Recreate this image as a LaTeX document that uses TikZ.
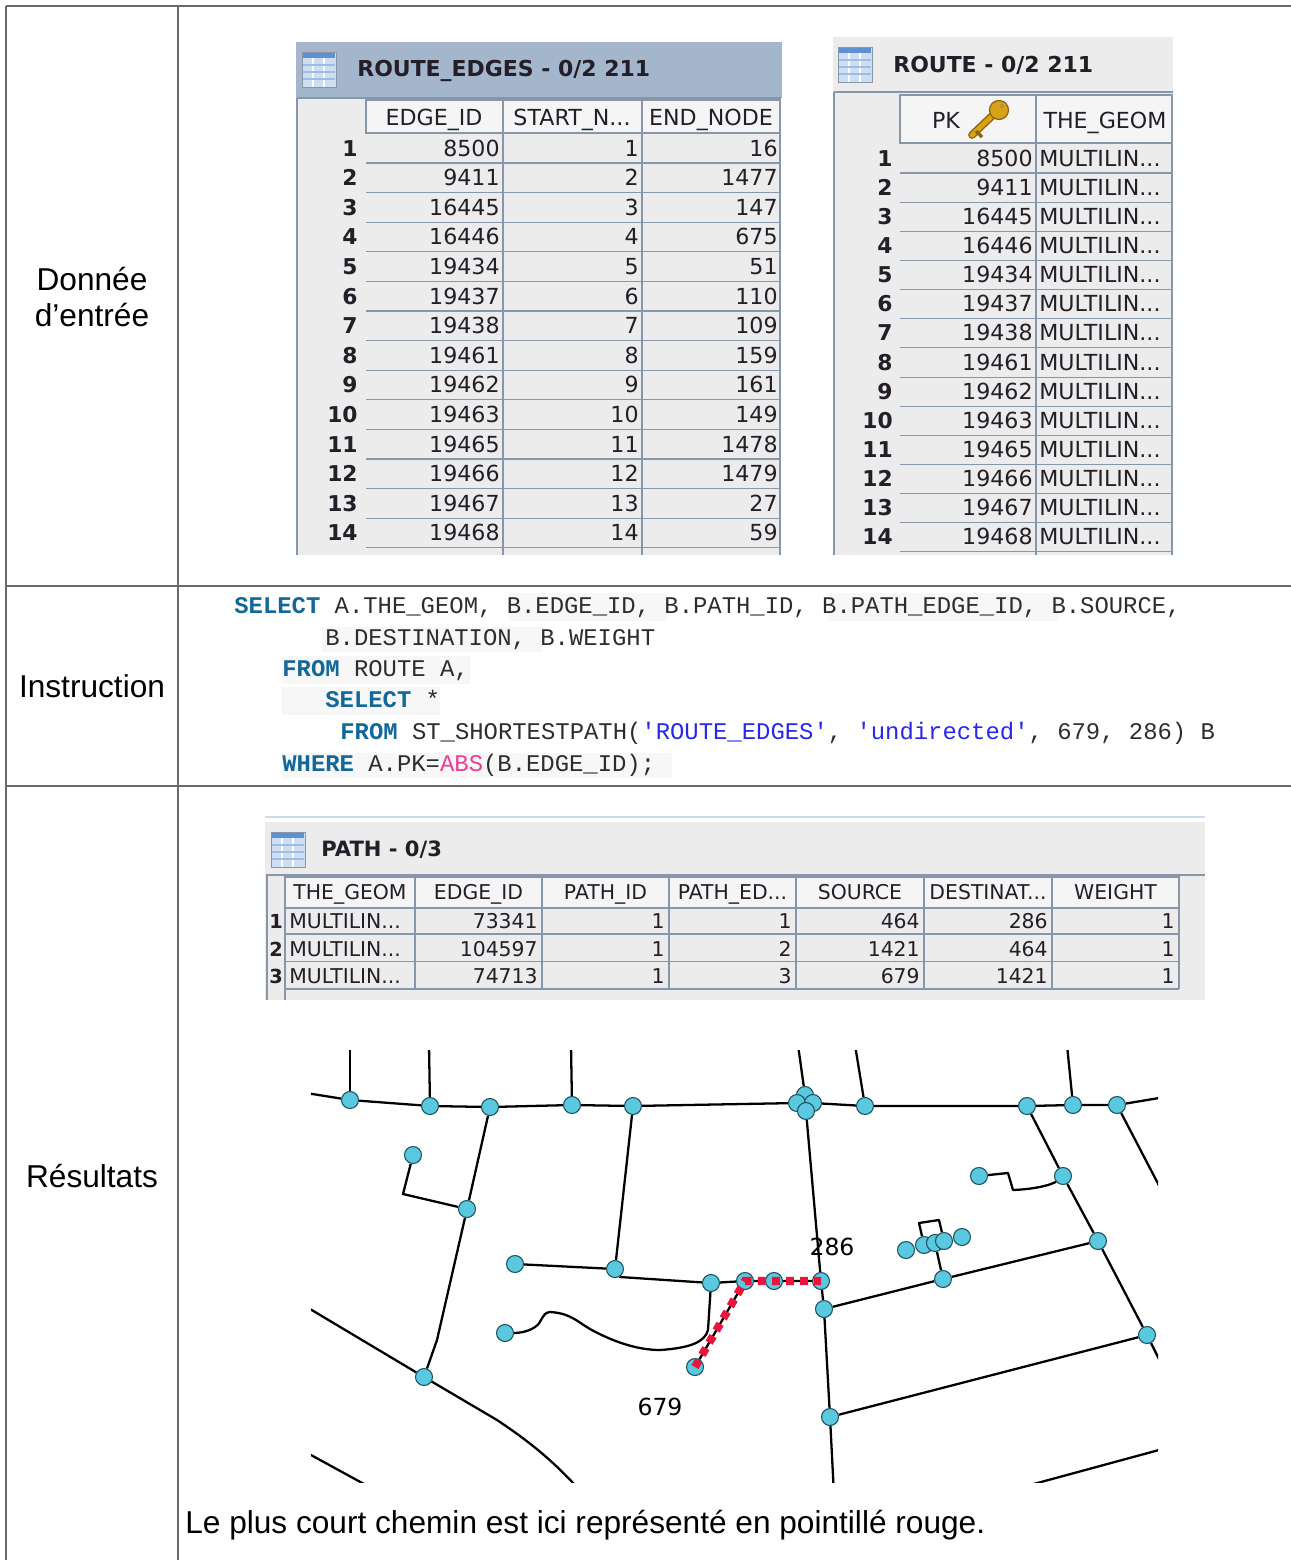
\documentclass[tikz,border=0pt]{standalone}
\usepackage{fontspec}
\setmainfont{Liberation Sans}
\setmonofont{Liberation Mono}
\newfontfamily\tabfont{DejaVu Sans}
\usetikzlibrary{backgrounds}

\definecolor{framegray}{RGB}{105,105,105}
\definecolor{headblue}{RGB}{164,182,204}
\definecolor{panel}{RGB}{236,236,236}
\definecolor{cellhead}{RGB}{245,245,245}
\definecolor{rulegray}{RGB}{135,150,168}
\definecolor{inkdark}{RGB}{35,30,40}
\definecolor{codegray}{RGB}{45,45,45}
\definecolor{sqlblue}{RGB}{18,104,152}
\definecolor{sqlstring}{RGB}{40,40,235}
\definecolor{sqlpink}{RGB}{236,60,150}
\definecolor{codeback}{RGB}{247,247,247}
\definecolor{iconblue}{RGB}{95,145,210}
\definecolor{iconfill}{RGB}{205,222,242}
\definecolor{keygold}{RGB}{214,162,24}
\definecolor{keyedge}{RGB}{140,100,10}
\definecolor{vertexfill}{RGB}{90,200,222}
\definecolor{vertexedge}{RGB}{30,80,95}
\definecolor{pathred}{RGB}{236,20,60}
\definecolor{topline}{RGB}{200,220,242}

\newcommand{\sqlkw}[1]{\textcolor{sqlblue}{\bfseries #1}}
\newcommand{\sqlstr}[1]{\textcolor{sqlstring}{#1}}
\newcommand{\sqlfn}[1]{\textcolor{sqlpink}{#1}}
\newcommand{\cut}{.\kern0pt.\kern0pt.}

% small table icon, top left corner at (#1,#2)
\newcommand{\gridicon}[2]{%
  \begin{scope}[shift={(#1,#2)}]
    \draw[rulegray, fill=iconfill, line width=0.5pt] (0,0) rectangle (34,35);
    \fill[iconblue] (0.6,0.6) rectangle (33.4,6);
    \foreach \gx in {11,22} \draw[white, line width=0.7pt] (\gx,6) -- (\gx,34.5);
    \foreach \gy in {13,20,27} \draw[iconblue!60, line width=0.6pt] (0.6,\gy) -- (33.4,\gy);
  \end{scope}}

\tikzset{
  frame/.style={draw=framegray, line width=1.1pt},
  rowrule/.style={draw=rulegray, line width=0.6pt},
  headcell/.style={fill=cellhead, draw=rulegray, line width=0.6pt},
  tabtxt/.style={font=\tabfont\fontsize{12.6pt}{15pt}\selectfont, text=inkdark, inner sep=0},
  pathtxt/.style={font=\tabfont\fontsize{11.6pt}{14pt}\selectfont, text=inkdark, inner sep=0},
  rownum/.style={font=\tabfont\bfseries\fontsize{12.4pt}{14pt}\selectfont, text=inkdark, inner sep=0, anchor=base east},
  tabtitle/.style={font=\tabfont\bfseries\fontsize{12.5pt}{15pt}\selectfont, text=inkdark, inner sep=0, anchor=west},
  codeline/.style={font=\ttfamily\fontsize{13.6pt}{16pt}\selectfont, text=codegray, inner sep=0, anchor=base west},
  celltitle/.style={font=\fontsize{18pt}{21pt}\selectfont, align=center, inner sep=0},
  vertex/.style={circle, draw=vertexedge, fill=vertexfill, line width=0.6pt, minimum size=0.34cm, inner sep=0},
  road/.style={line width=1.3pt, line join=round},
  shortpath/.style={draw=pathred, line width=4.6pt, dash pattern=on 4.4pt off 3.6pt},
  maplabel/.style={font=\tabfont\fontsize{13.4pt}{15pt}\selectfont, inner sep=0}
}

\begin{document}
\begin{tikzpicture}[x=0.02cm, y=-0.02cm]
\useasboundingbox (0,0) rectangle (1291,1560);

% outer table
\draw[frame] (6,6) -- (1295,6);
\draw[frame] (6,6) -- (6,1565);
\draw[frame] (178,6) -- (178,1565);
\draw[frame] (6,586) -- (1295,586);
\draw[frame] (6,786) -- (1295,786);

\node[celltitle] (input) at (92,297) {Donnée\\d'entrée};
\node[celltitle] (instr) at (92,686) {Instruction};
\node[celltitle] (result) at (92,1176) {Résultats};

% ROUTE_EDGES
\fill[headblue] (296,42) rectangle (782,98);
\fill[panel] (297,98) rectangle (781,555);
\draw[rowrule] (297,98) -- (781,98);
\draw[rowrule] (297,98) -- (297,555);
\gridicon{302}{52}
\node[tabtitle] (edgestitle) at (357,71) {ROUTE\_EDGES - 0/2 211};
\draw[headcell] (366,100) rectangle (503,133);
\draw[headcell] (503,100) rectangle (642,133);
\draw[headcell] (642,100) rectangle (780,133);
\draw[rowrule] (503,133) -- (503,555);
\draw[rowrule] (642,133) -- (642,555);
\draw[rowrule] (780,133) -- (780,555);
\node[tabtxt, anchor=base] (hedge) at (434,125) {EDGE\_ID};
\node[tabtxt, anchor=base] (hstart) at (572,125) {START\_N\cut};
\node[tabtxt, anchor=base] (hend) at (711,125) {END\_NODE};
\foreach \eid/\endn [count=\i] in {8500/16, 9411/1477, 16445/147, 16446/675, 19434/51, 19437/110, 19438/109, 19461/159, 19462/161, 19463/149, 19465/1478, 19466/1479, 19467/27, 19468/59}{
  \node[rownum] (er\i) at (358,{156+29.6*(\i-1)}) {\i};
  \node[tabtxt, anchor=base east] (ee\i) at (500,{156+29.6*(\i-1)}) {\eid};
  \node[tabtxt, anchor=base east] (es\i) at (639,{156+29.6*(\i-1)}) {\i};
  \node[tabtxt, anchor=base east] (en\i) at (778,{156+29.6*(\i-1)}) {\endn};
  \draw[rowrule] (366,{163+29.6*(\i-1)}) -- (780,{163+29.6*(\i-1)});
}

% ROUTE
\fill[panel] (833,37) rectangle (1173,555);
\draw[rowrule] (834,92) -- (1173,92);
\draw[rowrule] (834,92) -- (834,555);
\gridicon{838}{47}
\node[tabtitle] (routetitle) at (893,65) {ROUTE - 0/2 211};
\draw[headcell] (900,95) rectangle (1036,143);
\draw[headcell] (1036,95) rectangle (1172,143);
\draw[rowrule] (1036,143) -- (1036,555);
\draw[rowrule] (1172,143) -- (1172,555);
\node[tabtxt, anchor=base] (hpk) at (946,128) {PK};
\node[tabtxt, anchor=base] (hgeom) at (1105,128) {THE\_GEOM};
% key
\draw[keyedge, line width=4.4pt, line cap=round] (993,115) -- (972,135);
\draw[keygold, line width=2.8pt, line cap=round] (993,115) -- (972,135);
\draw[keyedge, line width=2pt] (976,131) -- (982,137);
\draw[keyedge, fill=keygold, line width=0.7pt] (999,110) circle (0.19cm);
\fill[keyedge!70] (1002,106) circle (0.045cm);
\foreach \eid [count=\i] in {8500, 9411, 16445, 16446, 19434, 19437, 19438, 19461, 19462, 19463, 19465, 19466, 19467, 19468}{
  \node[rownum] (rr\i) at (893,{166+29.15*(\i-1)}) {\i};
  \node[tabtxt, anchor=base east] (rp\i) at (1033,{166+29.15*(\i-1)}) {\eid};
  \node[tabtxt, anchor=base west] (rg\i) at (1039,{166+29.15*(\i-1)}) {MULTILIN\cut};
  \draw[rowrule] (900,{173+29.15*(\i-1)}) -- (1172,{173+29.15*(\i-1)});
}

% SQL
\fill[codeback] (509,593) rectangle (667,621);
\fill[codeback] (828,593) rectangle (1059,621);
\fill[codeback] (322,627) rectangle (543,652);
\fill[codeback] (282,656) rectangle (470,684);
\fill[codeback] (282,687) rectangle (440,715);
\fill[codeback] (282,753) rectangle (672,778);
\node[codeline] (sql1) at (234,613) {\sqlkw{SELECT} A.THE\_GEOM, B.EDGE\_ID, B.PATH\_ID, B.PATH\_EDGE\_ID, B.SOURCE,};
\node[codeline] (sql2) at (325,645) {B.DESTINATION, B.WEIGHT};
\node[codeline] (sql3) at (282,676) {\sqlkw{FROM} ROUTE A,};
\node[codeline] (sql4) at (325,707) {\sqlkw{SELECT} *};
\node[codeline] (sql5) at (340,739) {\sqlkw{FROM} ST\_SHORTESTPATH(\sqlstr{'ROUTE\_EDGES'}, \sqlstr{'undirected'}, 679, 286) B};
\node[codeline] (sql6) at (282,771) {\sqlkw{WHERE} A.PK=\sqlfn{ABS}(B.EDGE\_ID);};

% PATH
\draw[topline, line width=1.5pt] (265,817) -- (1205,817);
\fill[panel] (265,822) rectangle (1205,1000);
\gridicon{271}{832}
\node[tabtitle, font=\tabfont\bfseries\fontsize{12pt}{14pt}\selectfont] (pathtitle) at (321,850) {PATH - 0/3};
\draw[rowrule] (266,875) -- (1205,875);
\draw[rowrule] (267,875) -- (267,1000);
\draw[rowrule] (285,908) -- (285,1000);
\foreach \xa/\xb/\head in {285/415/THE\_GEOM, 415/542/EDGE\_ID, 542/669/PATH\_ID, 669/796/PATH\_ED\cut, 796/924/SOURCE, 924/1052/DESTINAT\cut, 1052/1179/WEIGHT}{
  \draw[headcell] (\xa,877) rectangle (\xb,908);
  \draw[rowrule] (\xb,908) -- (\xb,989);
  \node[pathtxt, anchor=base] at ({(\xa+\xb)/2},899.5) {\head};
}
\foreach \eid/\pe/\src/\dst [count=\i] in {73341/1/464/286, 104597/2/1421/464, 74713/3/679/1421}{
  \node[rownum, anchor=base, font=\tabfont\bfseries\fontsize{11pt}{13pt}\selectfont] (pr\i) at (276,{928.5+27.5*(\i-1)}) {\i};
  \node[pathtxt, anchor=base west] (pg\i) at (289,{928.5+27.5*(\i-1)}) {MULTILIN\cut};
  \node[pathtxt, anchor=base east] (pe\i) at (538,{928.5+27.5*(\i-1)}) {\eid};
  \node[pathtxt, anchor=base east] (pp\i) at (665,{928.5+27.5*(\i-1)}) {1};
  \node[pathtxt, anchor=base east] (pd\i) at (792,{928.5+27.5*(\i-1)}) {\pe};
  \node[pathtxt, anchor=base east] (ps\i) at (920,{928.5+27.5*(\i-1)}) {\src};
  \node[pathtxt, anchor=base east] (pt\i) at (1048,{928.5+27.5*(\i-1)}) {\dst};
  \node[pathtxt, anchor=base east] (pw\i) at (1175,{928.5+27.5*(\i-1)}) {1};
  \draw[rowrule] (285,{934+27.5*(\i-1)}) -- (1179,{934+27.5*(\i-1)});
}

% map: vertices
\node[vertex] (v1) at (350,1100) {};
\node[vertex] (v2) at (430,1106) {};
\node[vertex] (v3) at (490,1107) {};
\node[vertex] (v4) at (572,1105) {};
\node[vertex] (v5) at (633,1106) {};
\node[vertex] (c1) at (805,1095) {};
\node[vertex] (c2) at (797,1103) {};
\node[vertex] (c3) at (813,1103) {};
\node[vertex] (c4) at (806,1111) {};
\node[vertex] (v6) at (865,1106) {};
\node[vertex] (v7) at (1027,1106) {};
\node[vertex] (v8) at (1073,1105) {};
\node[vertex] (v9) at (1117,1105) {};
\node[vertex] (d1) at (413,1155) {};
\node[vertex] (v10) at (467,1209) {};
\node[vertex] (v11) at (424,1377) {};
\node[vertex] (d2) at (515,1264) {};
\node[vertex] (v12) at (615,1269) {};
\node[vertex] (v13) at (711,1283) {};
\node[vertex] (d3) at (505,1333) {};
\node[vertex] (s679) at (695,1367) {};
\node[vertex] (p1) at (745,1281) {};
\node[vertex] (p2) at (774,1281) {};
\node[vertex] (s286) at (821,1281) {};
\node[vertex] (v14) at (824,1309) {};
\node[vertex] (v15) at (830,1417) {};
\node[vertex] (d4) at (979,1176) {};
\node[vertex] (v16) at (1063,1176) {};
\node[vertex] (v17) at (1098,1241) {};
\node[vertex] (q1) at (906,1250) {};
\node[vertex] (q2) at (924,1245) {};
\node[vertex] (q3) at (935,1243) {};
\node[vertex] (q4) at (944,1241) {};
\node[vertex] (q5) at (962,1237) {};
\node[vertex] (v18) at (943,1279) {};
\node[vertex] (v19) at (1147,1335) {};

% map: free ends
\coordinate (w1) at (300,1092);
\coordinate (w2) at (350,1045);
\coordinate (w3) at (429,1045);
\coordinate (w4) at (571,1045);
\coordinate (w5) at (798,1045);
\coordinate (w6) at (855,1045);
\coordinate (w7) at (1067,1045);
\coordinate (w8) at (1165,1097);
\coordinate (w9) at (1165,1197);
\coordinate (w10) at (1165,1371);
\coordinate (w11) at (834,1495);
\coordinate (w12) at (300,1303);
\coordinate (w13) at (584,1495);
\coordinate (f1) at (300,1449);
\coordinate (f2) at (375,1490);
\coordinate (f3) at (1030,1485);
\coordinate (f4) at (1170,1447);

% map: roads
\begin{scope}[on background layer]
\clip (311,1050) rectangle (1158,1482);
\draw[road] (w1) -- (v1) -- (v2) -- (v3) -- (v4) -- (v5) -- (c2);
\draw[road] (c3) -- (v6) -- (v7) -- (v8) -- (v9) -- (w8);
\draw[road] (w2) -- (v1);
\draw[road] (w3) -- (v2);
\draw[road] (w4) -- (v4);
\draw[road] (w5) -- (c1);
\draw[road] (w6) -- (v6);
\draw[road] (w7) -- (v8);
\draw[road] (v3) -- (v10) -- (437,1340) -- (v11);
\draw[road] (d1) -- (403,1194) -- (v10);
\draw[road] (w12) -- (v11) -- (497,1420) .. controls (530,1442) and (555,1462) .. (w13);
\draw[road] (f1) -- (f2);
\draw[road] (f3) -- (f4);
\draw[road] (v5) -- (v12);
\draw[road] (d2) -- (v12);
\draw[road] (v12) -- (620,1277) -- (v13);
\draw[road] (v13) -- (p1) -- (p2) -- (s286);
\draw[road] (s679) -- (p1);
\draw[road] (v13) -- (708,1330) .. controls (705,1342) and (690,1348) .. (660,1350)
  .. controls (635,1350) and (610,1340) .. (590,1329)
  .. controls (578,1322) and (570,1313) .. (550,1312)
  .. controls (541,1313) and (543,1322) .. (535,1327)
  .. controls (528,1332) and (518,1333) .. (d3);
\draw[road] (c4) -- (s286) -- (v14) -- (v15) -- (w11);
\draw[road] (v7) -- (v16) -- (v17) -- (v19) -- (w10);
\draw[road] (v9) -- (w9);
\draw[road] (d4) -- (1008,1173) -- (1013,1190) .. controls (1038,1189) and (1053,1184) .. (v16);
\draw[road] (v14) -- (v18) -- (v17);
\draw[road] (v18) -- (q3);
\draw[road] (q2) -- (919,1223) -- (939,1220) -- (q4);
\draw[road] (v15) -- (v19);
\end{scope}

% shortest path
\draw[shortpath] (s679.center) -- (p1.center) -- (p2.center) -- (s286.center);
\node[maplabel] (lab286) at (832,1247) {286};
\node[maplabel] (lab679) at (660,1407) {679};

\node[celltitle, anchor=west] (caption) at (185,1525) {Le plus court chemin est ici représenté en pointillé rouge.};
\end{tikzpicture}
\end{document}
